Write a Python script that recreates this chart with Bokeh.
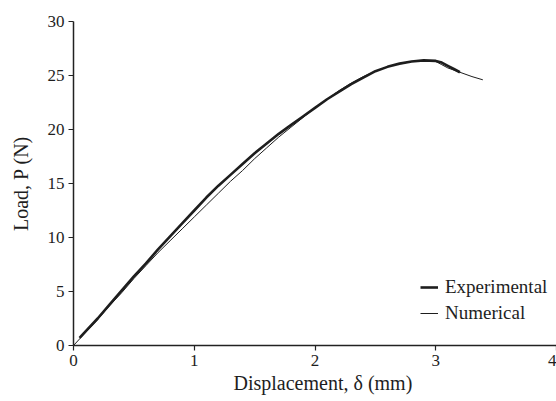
from bokeh.plotting import figure
from bokeh.models import Range1d, FixedTicker, Legend, LegendItem, Title
from bokeh.embed import file_html
from bokeh.resources import INLINE

# Experimental load-displacement curve (mm, N)
exp_d = [0.05, 0.1, 0.2, 0.3, 0.4, 0.5, 0.6, 0.7, 0.8, 0.9, 1.0, 1.1, 1.2, 1.3,
         1.4, 1.5, 1.6, 1.7, 1.8, 1.9, 2.0, 2.1, 2.2, 2.3, 2.4, 2.5, 2.6, 2.7,
         2.8, 2.9, 3.0, 3.05, 3.1, 3.15, 3.2]
exp_p = [0.7, 1.3, 2.5, 3.8, 5.1, 6.4, 7.6, 8.9, 10.1, 11.3, 12.5, 13.7, 14.8, 15.8,
         16.8, 17.8, 18.7, 19.6, 20.4, 21.2, 22.0, 22.8, 23.5, 24.2, 24.8, 25.4, 25.8, 26.1,
         26.3, 26.4, 26.35, 26.2, 25.9, 25.6, 25.3]

# Numerical load-displacement curve (mm, N)
num_d = [0.0, 0.1, 0.2, 0.3, 0.4, 0.5, 0.6, 0.7, 0.8, 0.9, 1.0, 1.1, 1.2, 1.3,
         1.4, 1.5, 1.6, 1.7, 1.8, 1.9, 2.0, 2.1, 2.2, 2.3, 2.4, 2.5, 2.6, 2.7,
         2.8, 2.9, 3.0, 3.05, 3.1, 3.2, 3.3, 3.39]
num_p = [0.0, 1.2, 2.4, 3.7, 4.9, 6.2, 7.4, 8.6, 9.7, 10.8, 11.9, 13.0, 14.1, 15.2,
         16.2, 17.3, 18.3, 19.3, 20.2, 21.1, 22.0, 22.8, 23.6, 24.3, 24.9, 25.4, 25.8, 26.1,
         26.3, 26.35, 26.3, 26.0, 25.7, 25.3, 24.9, 24.6]

x_ticks = [0, 1, 2, 3, 4]
y_ticks = [0, 5, 10, 15, 20, 25, 30]
x_title = "Displacement, \u03b4 (mm)"
y_title = "Load, P (N)"

FONT = "Liberation Serif"
INK = "#1e1e1e"

p = figure(width=556, height=401, output_backend="svg", toolbar_location=None,
           x_range=Range1d(0, 4.0), y_range=Range1d(0, 30),
           min_border_left=73, min_border_right=0, min_border_top=21,
           min_border_bottom=56, background_fill_color=None,
           border_fill_color="white")
p.outline_line_color = None
p.xgrid.visible = False
p.ygrid.visible = False

for ax, ticks in ((p.xaxis, x_ticks), (p.yaxis, y_ticks)):
    ax.ticker = FixedTicker(ticks=ticks)
    ax.major_label_text_font = FONT
    ax.major_label_text_font_size = "17px"
    ax.major_label_text_color = INK
    ax.major_tick_out = 5
    ax.major_tick_in = 0
    ax.minor_tick_line_color = None
    ax.axis_line_width = 1.5
    ax.axis_line_color = "#222222"
    ax.major_tick_line_color = "#222222"
    ax.major_tick_line_width = 1.2
    ax.major_label_standoff = 4
    ax.axis_label_text_font = FONT
    ax.axis_label_text_font_size = "20px"
    ax.axis_label_text_font_style = "normal"
    ax.axis_label_text_color = INK

p.yaxis.axis_label = y_title
p.yaxis.axis_label_standoff = 13

xt = Title(text=x_title, align="left", offset=160, standoff=3,
           text_font=FONT, text_font_size="20px", text_font_style="normal",
           text_color=INK)
p.add_layout(xt, "below")

r_exp = p.line(exp_d, exp_p, line_width=2.6, line_color=INK, line_join="round")
r_num = p.line(num_d, num_p, line_width=1.0, line_color=INK, line_join="round")

legend = Legend(items=[LegendItem(label="Experimental", renderers=[r_exp]),
                       LegendItem(label="Numerical", renderers=[r_num])],
                location=(347, 21), padding=0, margin=0, spacing=4,
                glyph_width=18, glyph_height=20, label_height=20,
                label_standoff=7, label_text_font=FONT,
                label_text_font_size="19px", label_text_color=INK,
                border_line_color=None, background_fill_alpha=0)
p.add_layout(legend)

open("out.html", "w").write(file_html(p, INLINE))
